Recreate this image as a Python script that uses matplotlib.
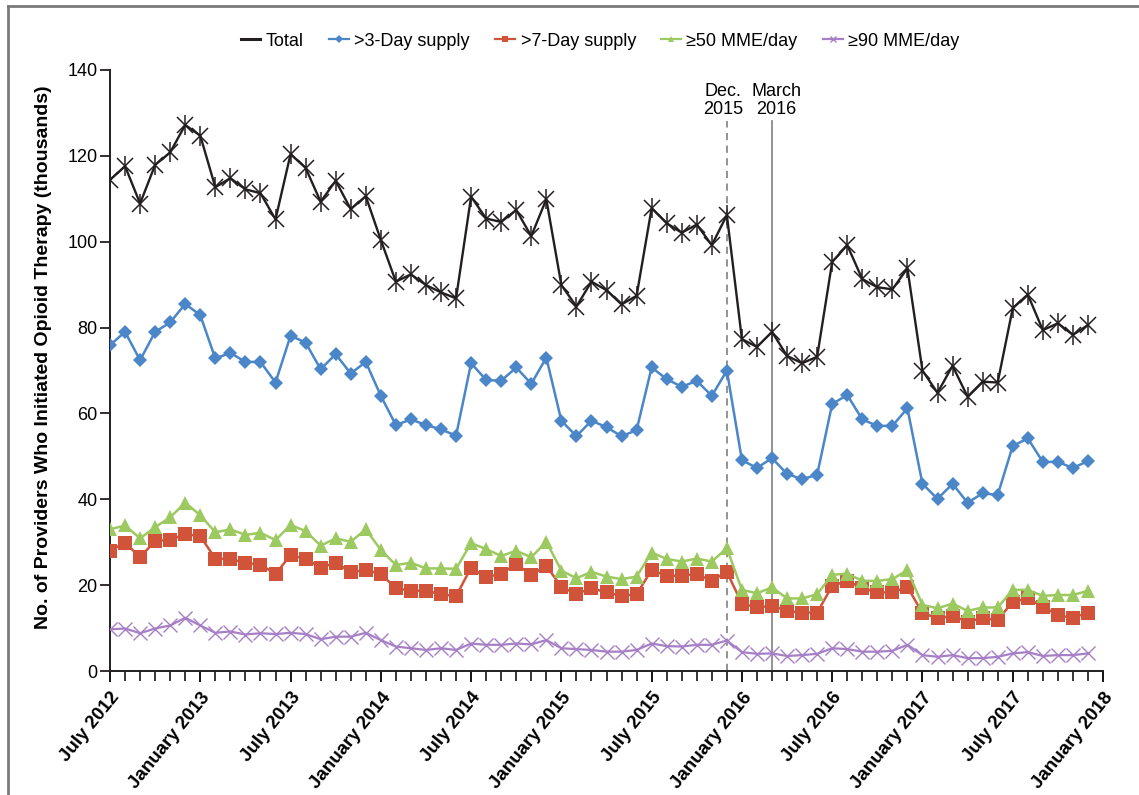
import matplotlib
matplotlib.use("Agg")
import matplotlib.pyplot as plt
from matplotlib.lines import Line2D
import numpy as np

plt.rcParams['font.family'] = ['Liberation Sans', 'DejaVu Sans']

# Monthly counts, July 2012 - December 2017 (thousands of providers)
total = [114.4, 117.6, 108.9, 117.9, 120.8, 127.2, 124.7, 112.7, 114.8, 112.2, 111.3, 105.2,
         120.4, 117.2, 109.3, 114.2, 107.6, 110.6, 100.4, 90.7, 92.4, 89.9, 88.2, 86.8,
         110.5, 105.4, 104.6, 107.4, 101.3, 109.9, 89.9, 84.9, 90.7, 88.7, 85.4, 87.4,
         107.8, 104.3, 102.1, 104.0, 99.2, 106.2, 77.3, 75.5, 79.0, 73.4, 71.7, 73.2,
         95.3, 99.2, 91.3, 89.4, 88.9, 93.8, 70.0, 64.8, 71.1, 63.9, 67.4, 67.2,
         84.5, 87.7, 79.4, 81.0, 78.3, 80.6]
supply_3day = [75.9, 79.0, 72.4, 79.0, 81.2, 85.5, 82.9, 72.8, 74.1, 72.0, 72.0, 67.2,
               78.1, 76.5, 70.3, 73.8, 69.3, 72.0, 64.1, 57.3, 58.6, 57.3, 56.3, 54.8,
               71.7, 67.8, 67.6, 70.7, 66.9, 73.0, 58.3, 54.7, 58.3, 56.8, 54.7, 56.1,
               70.7, 68.0, 66.2, 67.6, 64.1, 70.0, 49.1, 47.3, 49.6, 45.9, 44.7, 45.7,
               62.2, 64.3, 58.6, 57.1, 57.1, 61.2, 43.6, 40.1, 43.6, 39.2, 41.4, 41.0,
               52.4, 54.2, 48.7, 48.7, 47.3, 48.9]
supply_7day = [28.0, 29.9, 26.5, 30.3, 30.5, 31.9, 31.4, 26.2, 26.1, 25.2, 24.8, 22.6,
               27.0, 26.1, 24.1, 25.2, 23.1, 23.5, 22.6, 19.3, 18.7, 18.7, 17.9, 17.4,
               24.1, 21.8, 22.7, 24.9, 22.4, 24.5, 19.6, 17.9, 19.3, 18.3, 17.5, 17.9,
               23.5, 22.2, 22.2, 22.6, 21.0, 23.1, 15.7, 14.8, 15.2, 14.0, 13.6, 13.6,
               19.8, 21.0, 19.3, 18.3, 18.3, 19.6, 13.5, 12.3, 12.8, 11.5, 12.3, 11.9,
               16.1, 16.9, 15.0, 13.0, 12.4, 13.6]
mme_50 = [33.0, 33.9, 30.9, 33.5, 35.8, 39.2, 36.3, 32.3, 33.0, 31.7, 32.2, 30.5,
          34.0, 32.6, 29.2, 30.9, 30.1, 33.0, 28.2, 24.7, 25.2, 23.9, 23.9, 23.8,
          29.8, 28.4, 26.8, 28.0, 26.5, 30.1, 23.4, 21.6, 23.1, 22.0, 21.4, 22.0,
          27.6, 26.1, 25.5, 26.2, 25.5, 28.6, 18.9, 18.1, 19.5, 16.9, 16.9, 17.9,
          22.4, 22.7, 21.0, 21.0, 21.4, 23.5, 15.4, 14.6, 15.7, 14.0, 14.8, 14.8,
          18.9, 18.9, 17.5, 17.7, 17.7, 18.7]
mme_90 = [9.7, 9.9, 8.8, 9.9, 10.6, 12.4, 10.6, 8.9, 9.2, 8.5, 8.8, 8.6,
          8.9, 8.6, 7.4, 8.0, 8.0, 8.9, 7.2, 5.7, 5.3, 4.9, 5.3, 4.9,
          6.4, 6.1, 6.1, 6.4, 6.2, 7.2, 5.3, 5.1, 4.9, 4.5, 4.5, 4.9,
          6.4, 5.8, 5.7, 6.1, 6.1, 7.1, 4.4, 4.0, 4.1, 3.5, 3.7, 4.0,
          5.3, 5.1, 4.5, 4.5, 4.7, 6.1, 3.7, 3.3, 3.7, 3.0, 3.0, 3.3,
          4.1, 4.4, 3.5, 3.7, 3.7, 4.1]

tick_labels = ['July 2012', 'January 2013', 'July 2013', 'January 2014', 'July 2014',
               'January 2015', 'July 2015', 'January 2016', 'July 2016', 'January 2017',
               'July 2017', 'January 2018']
series_names = ['Total', '>3-Day supply', '>7-Day supply', '\u226550 MME/day', '\u226590 MME/day']
event_labels = ['Dec.\n2015', 'March\n2016']
event_months = [41, 44]   # months after July 2012

months = np.arange(len(total))

W, H = 1139, 795
fig = plt.figure(figsize=(W / 100, H / 100), dpi=100)
ax = fig.add_axes([110 / W, (H - 671) / H, (1103 - 110) / W, (671 - 70) / H])

c_black = '#231f20'
c_blue = '#4a86c8'
c_red = '#d0533a'
c_green = '#9cc960'
c_purple = '#a67fc6'

ax.plot(months, mme_90, color=c_purple, lw=1.6, marker='x', ms=10, mew=1.0, zorder=3)
ax.plot(months, supply_7day, color=c_red, lw=1.8, marker='s', ms=9.5, mew=0, zorder=4)
ax.plot(months, mme_50, color=c_green, lw=1.8, marker='^', ms=10, mew=0, zorder=4)
ax.plot(months, supply_3day, color=c_blue, lw=1.8, marker='D', ms=7.5, mew=0, zorder=5)
# Total: asterisk built from an x plus a vertical bar
ax.plot(months, total, color=c_black, lw=1.7, marker='x', ms=11, mew=1.1, zorder=6)
ax.plot(months, total, ls='none', color=c_black, marker='|', ms=15, mew=1.1, zorder=6)

# Policy reference lines
ax.plot([event_months[0]] * 2, [0, 128.2], color='#8a8a8a', lw=1.3, ls=(0, (4, 3)), zorder=2, clip_on=False)
ax.plot([event_months[1]] * 2, [0, 128.2], color='#8a8a8a', lw=1.3, zorder=2, clip_on=False)
ax.text(event_months[0] - 0.25, 128.8, event_labels[0], ha='center', va='bottom', fontsize=13,
        linespacing=1.1, clip_on=False)
ax.text(event_months[1] + 0.3, 128.8, event_labels[1], ha='center', va='bottom', fontsize=13,
        linespacing=1.1, clip_on=False)

ax.set_xlim(0, 66)
ax.set_ylim(0, 140)
ax.set_yticks(np.arange(0, 141, 20))
ax.set_xticks(np.arange(0, 67, 6))
ax.set_xticks(np.arange(0, 67, 1), minor=True)
ax.set_xticklabels(tick_labels, rotation=51, ha='right', va='top', rotation_mode='anchor',
                   fontsize=13.5, fontweight='bold')
ax.tick_params(axis='y', labelsize=13, length=7, width=1.3, color=c_black, pad=2)
ax.tick_params(axis='x', which='major', length=8, width=1.3, pad=5)
ax.tick_params(axis='x', which='minor', length=7, width=1.1)
for s in ['top', 'right']:
    ax.spines[s].set_visible(False)
for s in ['left', 'bottom']:
    ax.spines[s].set_linewidth(1.4)
    ax.spines[s].set_color(c_black)

ax.set_ylabel('No. of Providers Who Initiated Opioid Therapy (thousands)', fontsize=14,
              fontweight='bold')
ax.yaxis.set_label_coords(-0.058, 0.522)

handles = [
    Line2D([], [], color=c_black, lw=2.2),
    Line2D([], [], color=c_blue, lw=1.6, marker='D', ms=4, mew=0),
    Line2D([], [], color=c_red, lw=1.6, marker='s', ms=5, mew=0),
    Line2D([], [], color=c_green, lw=1.6, marker='^', ms=5, mew=0),
    Line2D([], [], color=c_purple, lw=1.6, marker='x', ms=5, mew=1),
]
fig.legend(handles, series_names, loc='center', bbox_to_anchor=(600 / W, 1 - 41 / H), ncol=5,
           frameon=False, fontsize=13, handlelength=1.1, handletextpad=0.3, columnspacing=1.4)

# Panel frame
fig.add_artist(Line2D([8 / W, 8 / W], [0, 1 - 6 / H], transform=fig.transFigure, color='#7a7a7a', lw=2))
fig.add_artist(Line2D([8 / W, 1], [1 - 6 / H, 1 - 6 / H], transform=fig.transFigure, color='#7a7a7a', lw=2))

fig.savefig('out.png', dpi=100, facecolor='white')
